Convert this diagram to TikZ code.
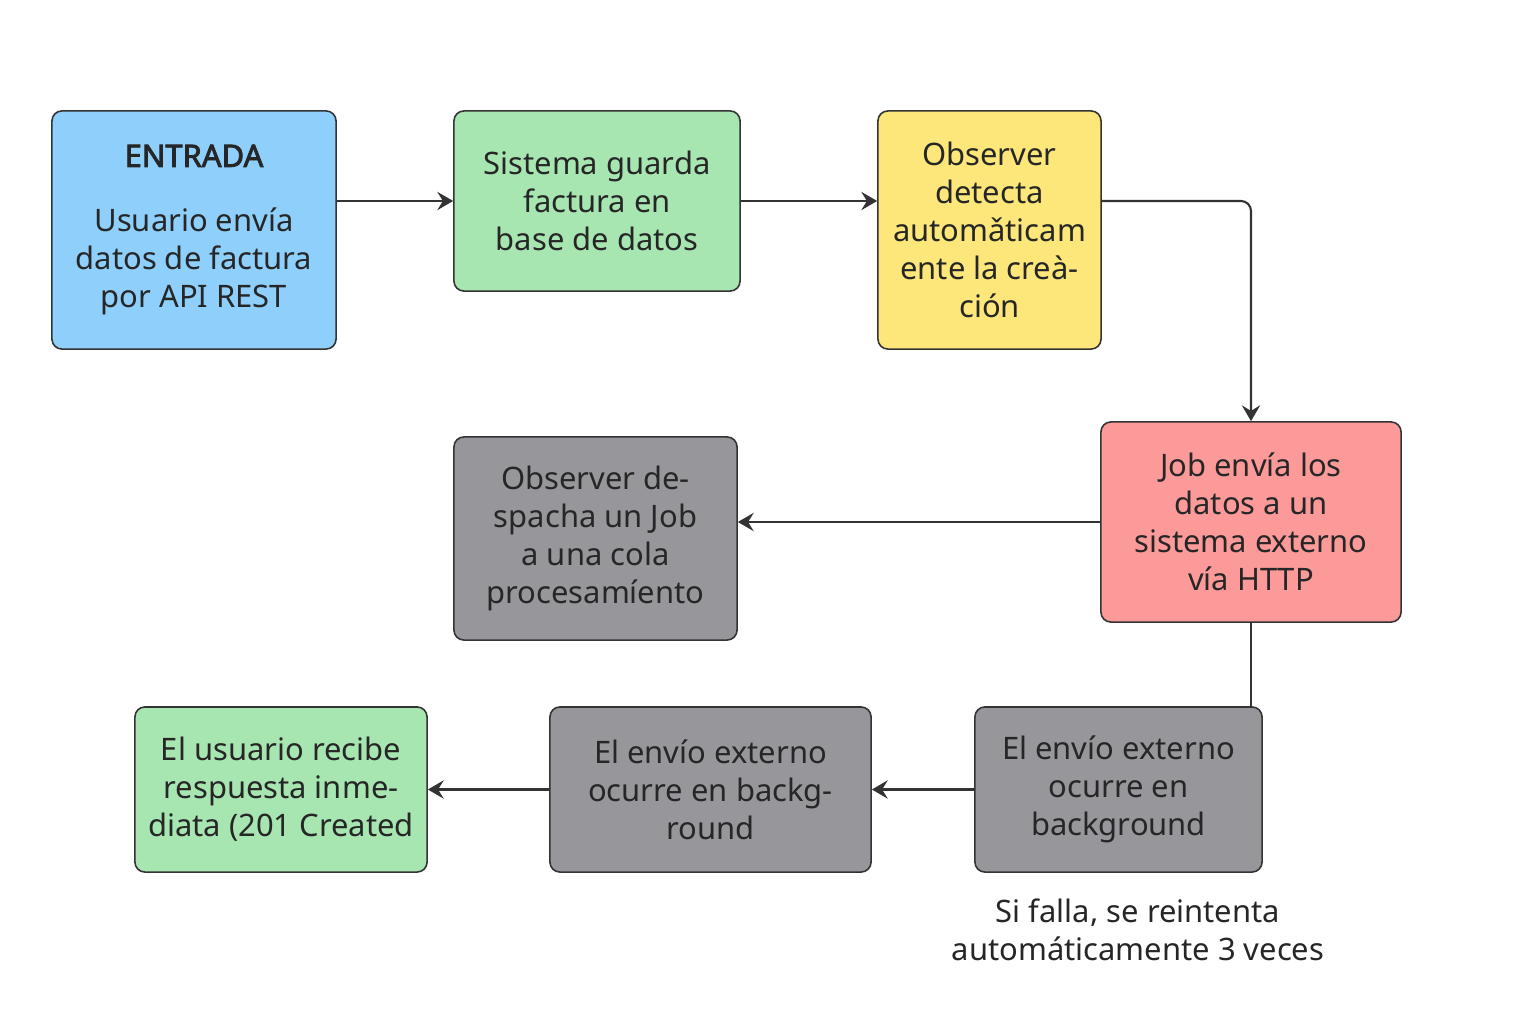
\documentclass[tikz,border=0pt]{standalone}
\usepackage{fontspec}
\setmainfont{Noto Sans}[AutoFakeBold=2.5]
\usetikzlibrary{arrows.meta}

\definecolor{entradac}{HTML}{8ECFFC}
\definecolor{guardac}{HTML}{A8E6B1}
\definecolor{detectac}{HTML}{FDE77A}
\definecolor{jobc}{HTML}{FC9A99}
\definecolor{grisc}{HTML}{96969B}
\definecolor{linec}{HTML}{333333}
\definecolor{textc}{HTML}{262626}

\tikzset{
	box/.style={draw=linec, line width=0.45pt, rounded corners=0.1cm, align=center, text=textc, inner sep=0pt, font=\fontsize{8.8}{10.8}\selectfont},
	conn/.style={draw=linec, line width=0.6pt, -{Stealth[length=4.5pt, width=5.2pt, inset=1.6pt]}}
}

\begin{document}
\begin{tikzpicture}[x=0.01cm, y=-0.01cm]
	\fill[white] (0,0) rectangle (1536,1024);
	\useasboundingbox (0,0) rectangle (1536,1024);

	% top row
	\node[box, fill=entradac, minimum width=2.84cm, minimum height=2.38cm] (entrada) at (194,230) {\textbf{ENTRADA}\\[0.27cm]Usuario envía\\datos de factura\\por API REST};
	\node[box, fill=guardac, minimum width=2.86cm, minimum height=1.80cm] (guarda) at (597,201) {Sistema guarda\\factura en\\base de datos};
	\node[box, fill=detectac, minimum width=2.23cm, minimum height=2.38cm] (detecta) at (989.5,230) {Observer\\detecta\\automǎticam\\ente la creà-\\ción};

	% middle row
	\node[box, fill=jobc, minimum width=3.00cm, minimum height=2.00cm] (job) at (1251,522) {Job envía los\\datos a un\\sistema externo\\vía HTTP};
	\node[box, fill=grisc, minimum width=2.83cm, minimum height=2.03cm] (despacha) at (595.5,538.5) {Observer de-\\spacha un Job\\a una cola\\procesamíento};

	% bottom row
	\node[box, fill=grisc, minimum width=2.87cm, minimum height=1.65cm] (fondo) at (1118.5,789.5) {El envío externo\\ocurre en\\background};
	\node[box, fill=grisc, minimum width=3.21cm, minimum height=1.65cm] (backg) at (710.5,789.5) {El envío externo\\ocurre en backg-\\round};
	\node[box, fill=guardac, minimum width=2.92cm, minimum height=1.65cm] (recibe) at (281,789.5) {El usuario recibe\\respuesta inme-\\diata (201 Created};

	% note
	\node[align=center, text=textc, font=\fontsize{8.8}{10.8}\selectfont] (nota) at (1138,930) {Si falla, se reintenta\\automáticamente 3 veces};

	% arrows
	\draw[conn] (entrada.east |- guarda.west) -- (guarda.west);
	\draw[conn] (guarda.east) -- (guarda.east -| detecta.west);
	\draw[conn, rounded corners=0.1cm] (detecta.east |- guarda.east) -| (job.north);
	\draw[conn] (job.west) -- (job.west -| despacha.east);
	\draw[draw=linec, line width=0.6pt] (job.south) -- (job.south |- fondo.north);
	\draw[conn] (fondo.west) -- (backg.east);
	\draw[conn] (backg.west) -- (recibe.east);
\end{tikzpicture}
\end{document}
